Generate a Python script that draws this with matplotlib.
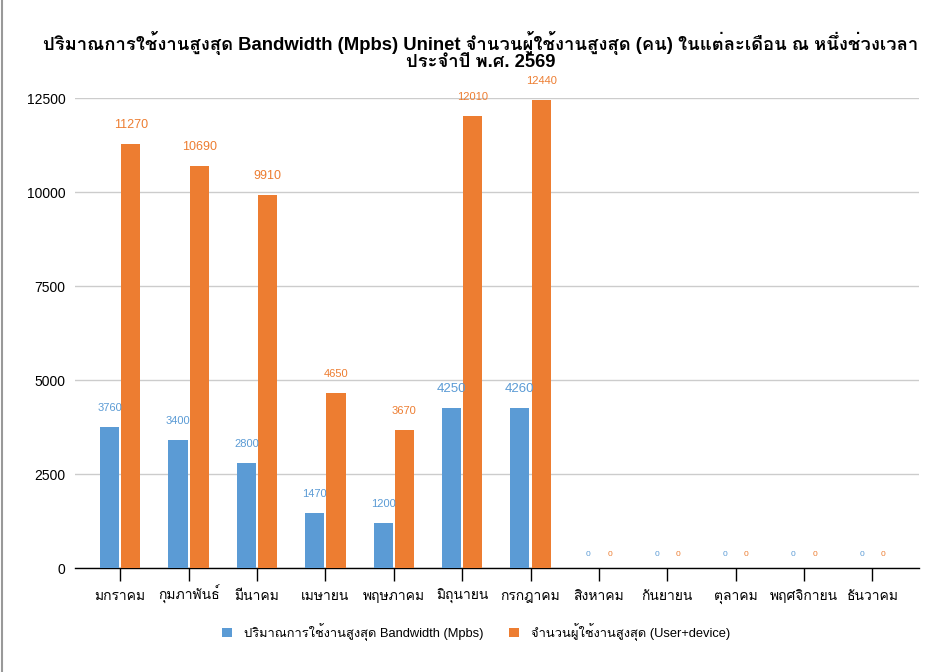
import matplotlib
matplotlib.use("Agg")
import matplotlib.pyplot as plt
import numpy as np

FONT = ['Liberation Sans', 'Loma']
plt.rcParams['font.family'] = FONT

months = ['มกราคม', 'กุมภาพันธ์', 'มีนาคม', 'เมษายน', 'พฤษภาคม', 'มิถุนายน',
          'กรกฎาคม', 'สิงหาคม', 'กันยายน', 'ตุลาคม', 'พฤศจิกายน', 'ธันวาคม']
bandwidth = [3760, 3400, 2800, 1470, 1200, 4250, 4260, 0, 0, 0, 0, 0]
users = [11270, 10690, 9910, 4650, 3670, 12010, 12440, 0, 0, 0, 0, 0]
yticks = [0, 2500, 5000, 7500, 10000, 12500]

title = ('ปริมาณการใช้งานสูงสุด Bandwidth (Mpbs) Uninet จำนวนผู้ใช้งานสูงสุด (คน) '
         'ในแต่ละเดือน ณ หนึ่งช่วงเวลา\nประจำปี พ.ศ. 2569')
name_bw = 'ปริมาณการใช้งานสูงสุด Bandwidth (Mpbs)'
name_us = 'จำนวนผู้ใช้งานสูงสุด (User+device)'

BLUE = '#5b9bd5'
ORANGE = '#ed7d31'

# label font sizes as they appear in the picture (mixed)
bw_sizes = [8, 8, 8, 8, 8, 9.5, 9.5, 6, 6, 6, 6, 6]
us_sizes = [9, 9, 9, 8, 8, 8, 8, 6, 6, 6, 6, 6]

fig = plt.figure(figsize=(9.52, 6.72), dpi=100)
ax = fig.add_axes([75 / 952, 1 - 568 / 672, (919 - 75) / 952, (568 - 98) / 672])

x = np.arange(len(months))
w = 0.28
off = 0.155
ax.bar(x - off, bandwidth, w, color=BLUE, label=name_bw, zorder=3)
ax.bar(x + off, users, w, color=ORANGE, label=name_us, zorder=3)

for i in range(len(months)):
    dy_b = 19 if bandwidth[i] else 13
    dy_u = 19 if users[i] else 13
    ax.annotate(str(bandwidth[i]), (x[i] - off, bandwidth[i]), xytext=(0, dy_b),
                textcoords='offset pixels', ha='center', va='center',
                color=BLUE, fontsize=bw_sizes[i])
    ax.annotate(str(users[i]), (x[i] + off, users[i]), xytext=(0, dy_u),
                textcoords='offset pixels', ha='center', va='center',
                color=ORANGE, fontsize=us_sizes[i])

ax.set_xlim(-0.66, 11.68)
ax.set_ylim(0, 12500)
ax.set_yticks(yticks)
ax.set_yticklabels([str(v) for v in yticks])
ax.set_xticks(x)
ax.set_xticklabels(months)
ax.tick_params(axis='y', length=0, pad=7, labelsize=10)
ax.tick_params(axis='x', length=9, width=1, color='black', direction='out',
               pad=14, labelsize=10)
# line the month names up on one baseline (Thai marks change the text height)
for lab in ax.get_xticklabels():
    lab.set_va('baseline')
ax.grid(axis='y', color='#cccccc', linewidth=1, zorder=0)
for s in ['left', 'right', 'top']:
    ax.spines[s].set_visible(False)
ax.spines['bottom'].set_color('black')
ax.spines['bottom'].set_linewidth(1)

fig.text(0.505, 1 - 51 / 672, title, ha='center', va='center',
         fontsize=13.3, fontweight='bold', linespacing=0.9)

fig.legend(loc='center', bbox_to_anchor=(0.5, 1 - 632 / 672), ncol=2,
           frameon=False, fontsize=9.3, handlelength=0.8, handleheight=0.8,
           columnspacing=2.0, handletextpad=0.9)

# thin grey frame on the left edge like the screenshot
fig.add_artist(plt.Line2D([1.5 / 952, 1.5 / 952], [0, 1], color='#999999',
                          linewidth=1.5, transform=fig.transFigure))

fig.savefig('out.png', dpi=100)
